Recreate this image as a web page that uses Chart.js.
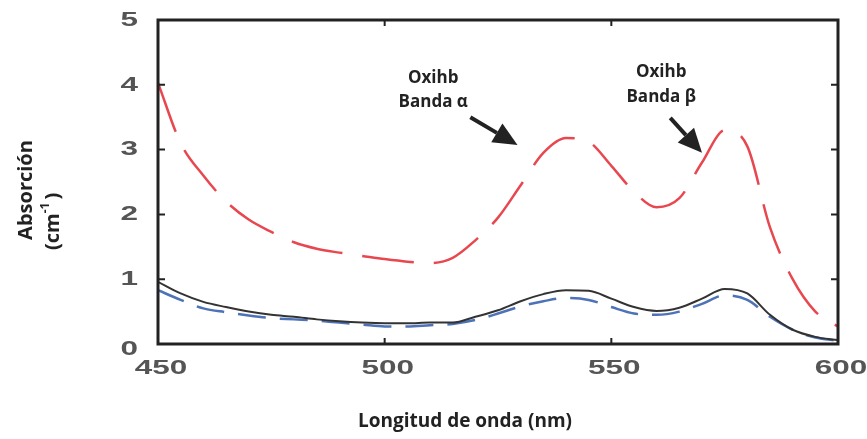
<!DOCTYPE html>
<html>
<head>
<meta charset="utf-8">
<script src="https://cdn.jsdelivr.net/npm/chart.js@4.4.1/dist/chart.umd.min.js"></script>
<style>
  body { margin: 0; background: #fff; }
  #wrap { width: 867px; height: 439px; position: relative; }
</style>
</head>
<body>
<div id="wrap"><canvas id="chart"></canvas></div>
<script>
// wavelength (nm), 5 nm steps
const wavelengths = [450, 455, 460, 465, 470, 475, 480, 485, 490, 495, 500, 505, 510, 515, 520,
  525, 530, 535, 540, 545, 550, 555, 560, 565, 570, 575, 580, 585, 590, 595, 600];
const oxihb = [4.03, 3.1, 2.6, 2.2, 1.92, 1.73, 1.57, 1.47, 1.41, 1.36, 1.31, 1.27, 1.25, 1.33, 1.6,
  1.95, 2.45, 2.95, 3.18, 3.12, 2.75, 2.35, 2.11, 2.25, 2.8, 3.3, 3.05, 1.8, 1.0, 0.5, 0.27];
const solid = [0.96, 0.78, 0.65, 0.57, 0.5, 0.45, 0.42, 0.38, 0.35, 0.33, 0.32, 0.32, 0.33, 0.33, 0.42,
  0.52, 0.66, 0.77, 0.83, 0.82, 0.7, 0.57, 0.51, 0.56, 0.7, 0.85, 0.78, 0.45, 0.22, 0.11, 0.06];
const dashedBlue = [0.83, 0.68, 0.55, 0.49, 0.44, 0.4, 0.38, 0.36, 0.33, 0.3, 0.27, 0.27, 0.29, 0.31, 0.37,
  0.47, 0.58, 0.66, 0.71, 0.68, 0.57, 0.47, 0.45, 0.5, 0.62, 0.75, 0.68, 0.42, 0.22, 0.1, 0.05];
const xTicks = [450, 500, 550, 600];
const yTicks = [0, 1, 2, 3, 4, 5];

// band labels and their arrows, in data units
const bandLabels = [
  { top: "Oxihb", bottom: "Banda α", x: 510.7, y1: 4.1, y2: 3.73, ax: 518.9, ay: 3.5, bx: 529.3, by: 3.07 },
  { top: "Oxihb", bottom: "Banda β", x: 561.0, y1: 4.2, y2: 3.81, ax: 563.0, ay: 3.49, bx: 570.0, by: 2.95 }
];

const toPoints = vals => wavelengths.map((w, i) => ({ x: w, y: vals[i] }));

const framePlugin = {
  id: "frame",
  afterDraw(chart) {
    const { ctx, chartArea: a, scales } = chart;
    const xs = scales.x, ys = scales.y;
    ctx.save();
    ctx.strokeStyle = "#222";
    ctx.lineWidth = 3;
    ctx.strokeRect(a.left, a.top, a.right - a.left, a.bottom - a.top);
    ctx.lineWidth = 2;
    // inward ticks
    xTicks.forEach(v => {
      const px = xs.getPixelForValue(v);
      ctx.beginPath();
      ctx.moveTo(px, a.bottom); ctx.lineTo(px, a.bottom - 6);
      ctx.moveTo(px, a.top); ctx.lineTo(px, a.top + 6);
      ctx.stroke();
    });
    yTicks.forEach(v => {
      const py = ys.getPixelForValue(v);
      ctx.beginPath();
      ctx.moveTo(a.left, py); ctx.lineTo(a.left + 7, py);
      ctx.moveTo(a.right, py); ctx.lineTo(a.right - 7, py);
      ctx.stroke();
    });
    // tick labels (stretched like the original)
    ctx.fillStyle = "#555";
    ctx.font = "bold 21px 'Liberation Sans', Arial, sans-serif";
    ctx.textBaseline = "middle";
    xTicks.forEach(v => {
      const px = xs.getPixelForValue(v);
      ctx.save();
      ctx.translate(px + 3, a.bottom + 24);
      ctx.scale(1.5, 1);
      ctx.textAlign = "center";
      ctx.fillText(String(v), 0, 0);
      ctx.restore();
    });
    yTicks.forEach(v => {
      const py = ys.getPixelForValue(v);
      ctx.save();
      ctx.translate(a.left - 20, py + (v === 0 ? 5 : 0));
      ctx.scale(1.5, 1);
      ctx.textAlign = "right";
      ctx.fillText(String(v), 0, 0);
      ctx.restore();
    });

    // band annotations
    ctx.fillStyle = "#222";
    ctx.strokeStyle = "#222";
    ctx.textAlign = "center";
    ctx.font = "bold 17px 'Open Sans', sans-serif";
    bandLabels.forEach(b => {
      const cx = xs.getPixelForValue(b.x);
      ctx.fillText(b.top, cx, ys.getPixelForValue(b.y1));
      ctx.fillText(b.bottom, cx, ys.getPixelForValue(b.y2));
      const x0 = xs.getPixelForValue(b.ax), y0 = ys.getPixelForValue(b.ay);
      const x1 = xs.getPixelForValue(b.bx), y1 = ys.getPixelForValue(b.by);
      const ang = Math.atan2(y1 - y0, x1 - x0);
      const headLen = 24, headW = 11;
      const hx = x1 - headLen * Math.cos(ang), hy = y1 - headLen * Math.sin(ang);
      ctx.lineWidth = 4;
      ctx.beginPath();
      ctx.moveTo(x0, y0); ctx.lineTo(hx, hy);
      ctx.stroke();
      ctx.beginPath();
      ctx.moveTo(x1, y1);
      ctx.lineTo(hx + headW * Math.sin(ang), hy - headW * Math.cos(ang));
      ctx.lineTo(hx - headW * Math.sin(ang), hy + headW * Math.cos(ang));
      ctx.closePath();
      ctx.fill();
    });

    // axis titles
    ctx.font = "bold 19px 'Open Sans', sans-serif";
    ctx.fillText("Longitud de onda (nm)", 465, 422);
    ctx.font = "bold 20px 'Open Sans', sans-serif";
    ctx.save();
    ctx.translate(26, 190);
    ctx.rotate(-Math.PI / 2);
    ctx.fillText("Absorción", 0, 0);
    ctx.restore();
    ctx.save();
    ctx.translate(53, 218);
    ctx.rotate(-Math.PI / 2);
    ctx.textAlign = "left";
    let tx = -32;
    ctx.fillText("(cm", tx, 0);
    tx += ctx.measureText("(cm").width;
    ctx.font = "bold 12px 'Open Sans', sans-serif";
    ctx.fillText("-1", tx, -7);
    tx += ctx.measureText("-1 ").width;
    ctx.font = "bold 20px 'Open Sans', sans-serif";
    ctx.fillText(")", tx, 0);
    ctx.restore();
    ctx.restore();
  }
};

new Chart(document.getElementById("chart"), {
  type: "line",
  data: {
    datasets: [
      { data: toPoints(oxihb), borderColor: "#e8474f", borderWidth: 2.5, borderDash: [52, 20] },
      { data: toPoints(solid), borderColor: "#333333", borderWidth: 2 },
      { data: toPoints(dashedBlue), borderColor: "#4d72b8", borderWidth: 2.5, borderDash: [28, 14], order: 1 }
    ]
  },
  options: {
    responsive: true,
    maintainAspectRatio: false,
    animation: false,
    layout: { padding: { top: 20, right: 29, left: 0, bottom: 0 } },
    elements: {
      point: { radius: 0 },
      line: { tension: 0.35, cubicInterpolationMode: "monotone", fill: false }
    },
    plugins: { legend: { display: false }, tooltip: { enabled: false } },
    scales: {
      x: {
        type: "linear", min: 450, max: 600,
        grid: { display: false }, border: { display: false },
        ticks: { display: false, stepSize: 50 },
        afterFit(scale) { scale.height = 95; }
      },
      y: {
        min: 0, max: 5,
        grid: { display: false }, border: { display: false },
        ticks: { display: false, stepSize: 1 },
        afterFit(scale) { scale.width = 158; }
      }
    }
  },
  plugins: [framePlugin]
});
</script>
</body>
</html>
